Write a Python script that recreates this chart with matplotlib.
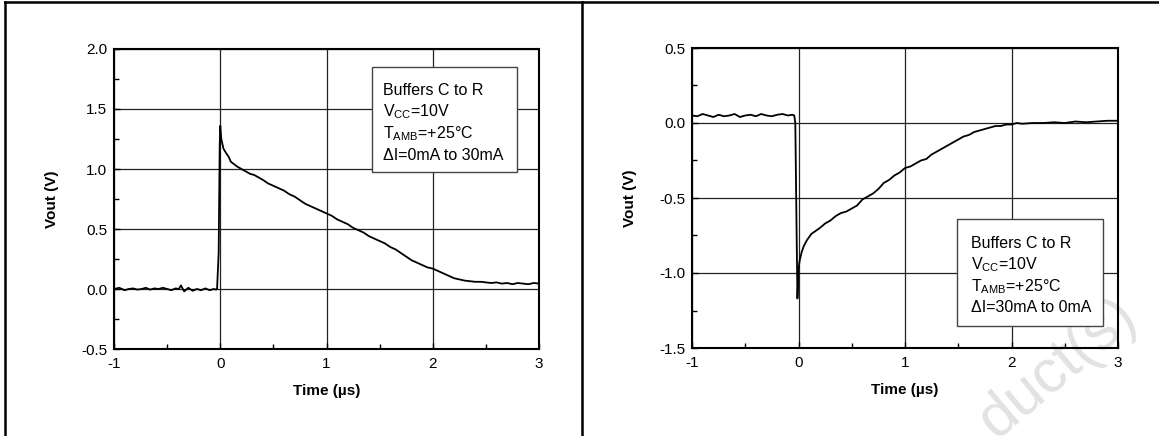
import matplotlib
matplotlib.use("Agg")
import matplotlib.pyplot as plt
from matplotlib.ticker import MultipleLocator
from matplotlib.lines import Line2D
from matplotlib.patches import Rectangle

plt.rcParams['font.family'] = ['Liberation Sans', 'DejaVu Sans']
plt.rcParams['mathtext.fontset'] = 'custom'
plt.rcParams['mathtext.rm'] = 'Liberation Sans'

# left panel: 0mA -> 30mA step
t_rise = [-1.0, -0.95, -0.9, -0.86, -0.82, -0.78, -0.74, -0.7, -0.66, -0.62,
          -0.58, -0.54, -0.5, -0.46, -0.42, -0.39, -0.37, -0.34, -0.3, -0.26,
          -0.22, -0.18, -0.14, -0.1, -0.06, -0.04, -0.03, -0.015, -0.005, 0.0,
          0.01, 0.03, 0.05, 0.08, 0.1, 0.13, 0.16, 0.2, 0.24, 0.28, 0.32,
          0.36, 0.4, 0.45, 0.5, 0.55, 0.6, 0.65, 0.7, 0.75, 0.8, 0.85, 0.9,
          0.95, 1.0, 1.05, 1.1, 1.15, 1.2, 1.25, 1.3, 1.35, 1.4, 1.45, 1.5,
          1.55, 1.6, 1.65, 1.7, 1.75, 1.8, 1.85, 1.9, 1.95, 2.0, 2.05, 2.1,
          2.15, 2.2, 2.25, 2.3, 2.35, 2.4, 2.45, 2.5, 2.55, 2.6, 2.65, 2.7,
          2.75, 2.8, 2.85, 2.9, 2.95, 3.0]
v_rise = [0.0, 0.01, -0.01, 0.0, 0.005, -0.005, 0.0, 0.01, -0.005, 0.005,
          0.0, 0.01, 0.0, -0.01, 0.005, 0.0, 0.03, -0.02, 0.01, -0.015,
          0.0, -0.01, 0.005, -0.01, 0.0, -0.005, 0.0, 0.3, 1.2, 1.36,
          1.25, 1.17, 1.14, 1.10, 1.06, 1.04, 1.02, 1.00, 0.98, 0.96, 0.95,
          0.93, 0.91, 0.88, 0.86, 0.84, 0.82, 0.79, 0.77, 0.74, 0.71, 0.69, 0.67,
          0.65, 0.63, 0.61, 0.58, 0.56, 0.54, 0.51, 0.49, 0.47, 0.44, 0.42, 0.40,
          0.38, 0.35, 0.33, 0.30, 0.27, 0.24, 0.22, 0.20, 0.18, 0.17, 0.15, 0.13,
          0.11, 0.09, 0.08, 0.07, 0.065, 0.06, 0.06, 0.055, 0.05, 0.055, 0.045, 0.05,
          0.04, 0.05, 0.045, 0.04, 0.05, 0.045]

# right panel: 30mA -> 0mA step
t_fall = [-1.0, -0.95, -0.9, -0.85, -0.8, -0.75, -0.7, -0.65, -0.6, -0.55,
          -0.5, -0.45, -0.4, -0.35, -0.3, -0.25, -0.2, -0.15, -0.1, -0.06,
          -0.04, -0.03, -0.02, -0.01, 0.0, 0.01, 0.03, 0.05, 0.08, 0.12, 0.16,
          0.2, 0.25, 0.3, 0.35, 0.4, 0.45, 0.5, 0.55, 0.6, 0.65, 0.7, 0.75,
          0.8, 0.85, 0.9, 0.95, 1.0, 1.05, 1.1, 1.15, 1.2, 1.25, 1.3, 1.35,
          1.4, 1.45, 1.5, 1.55, 1.6, 1.65, 1.7, 1.75, 1.8, 1.85, 1.9, 1.95,
          2.0, 2.05, 2.1, 2.2, 2.3, 2.4, 2.5, 2.6, 2.7, 2.8, 2.9, 3.0]
v_fall = [0.05, 0.045, 0.06, 0.05, 0.04, 0.055, 0.045, 0.05, 0.06, 0.04,
          0.05, 0.055, 0.045, 0.06, 0.05, 0.045, 0.055, 0.06, 0.05, 0.055,
          0.05, 0.0, -0.6, -1.17, -0.98, -0.92, -0.86, -0.82, -0.78, -0.74, -0.72,
          -0.70, -0.67, -0.65, -0.62, -0.60, -0.59, -0.57, -0.55, -0.51, -0.49, -0.47, -0.44,
          -0.40, -0.38, -0.35, -0.33, -0.30, -0.29, -0.27, -0.25, -0.24, -0.21, -0.19, -0.17,
          -0.15, -0.13, -0.11, -0.09, -0.08, -0.06, -0.05, -0.04, -0.03, -0.02, -0.02, -0.01,
          -0.01, 0.0, -0.005, 0.0, 0.0, 0.005, 0.0, 0.01, 0.005, 0.01, 0.015, 0.015]

lines_rise = ["Buffers C to R", "V$_\\mathregular{CC}$=10V",
              "T$_\\mathregular{AMB}$=+25°C", "\u0394I=0mA to 30mA"]
lines_fall = ["Buffers C to R", "V$_\\mathregular{CC}$=10V",
              "T$_\\mathregular{AMB}$=+25°C", "\u0394I=30mA to 0mA"]

W, H = 1159, 436
fig = plt.figure(figsize=(W / 100, H / 100), dpi=100)


def px(x, y):
    return x / W, 1 - y / H


def style_axes(ax, ylim, yticks):
    ax.set_facecolor("none")
    ax.set_xlim(-1, 3)
    ax.set_ylim(*ylim)
    ax.set_xticks([-1, 0, 1, 2, 3])
    ax.set_xticklabels(["-1", "0", "1", "2", "3"])
    ax.set_yticks(yticks)
    ax.set_yticklabels(["%.1f" % v for v in yticks])
    ax.xaxis.set_minor_locator(MultipleLocator(0.5))
    ax.yaxis.set_minor_locator(MultipleLocator(0.25))
    ax.tick_params(which="both", direction="in", top=False, right=False,
                   labelsize=11)
    ax.tick_params(axis="x", pad=6)
    ax.tick_params(axis="y", pad=5)
    ax.tick_params(which="major", length=4, width=1)
    ax.tick_params(which="minor", length=3.5, width=1)
    ax.grid(True, which="major", color="#222222", linewidth=0.9)
    for s in ax.spines.values():
        s.set_linewidth(1.5)
    ax.set_xlabel("Time (\u00b5s)", fontsize=11, fontweight="bold", labelpad=9)
    ax.set_ylabel("Vout (V)", fontsize=11, fontweight="bold", labelpad=16)


def info_box(box, text_x, baselines, lines):
    x0, y0, x1, y1 = box
    fig.add_artist(Rectangle(px(x0, y1), (x1 - x0) / W, (y1 - y0) / H,
                             transform=fig.transFigure, facecolor="white",
                             edgecolor="#444444", linewidth=1.0, zorder=5))
    for yb, s in zip(baselines, lines):
        fig.text(text_x / W, 1 - yb / H, s, fontsize=11.5, ha="left",
                 va="baseline", zorder=6)


# watermark fragment (drawn first, behind the transparent axes)
fig.text(1058 / W, 1 - 368 / H, "duct(s)", fontsize=44, color="#e2e2e2",
         rotation=40, ha="center", va="center", zorder=-5)

ax1 = fig.add_axes([114 / W, 1 - 349 / H, 425 / W, 300 / H])
ax1.plot(t_rise, v_rise, color="black", linewidth=1.3)
style_axes(ax1, (-0.5, 2.0), [-0.5, 0.0, 0.5, 1.0, 1.5, 2.0])

ax2 = fig.add_axes([692 / W, 1 - 348 / H, 426 / W, 300 / H])
ax2.plot(t_fall, v_fall, color="black", linewidth=1.3)
style_axes(ax2, (-1.5, 0.5), [-1.5, -1.0, -0.5, 0.0, 0.5])

info_box((372, 67, 517, 172), 383, [95, 116.5, 138, 160], lines_rise)
info_box((957, 219, 1103, 326), 971, [248, 269.5, 291, 312], lines_fall)

# page frame
fig.add_artist(Line2D([5 / W, 1], [1 - 2 / H, 1 - 2 / H], transform=fig.transFigure,
                      color="black", linewidth=1.8))
fig.add_artist(Line2D([5 / W, 5 / W], [0, 1 - 2 / H], transform=fig.transFigure,
                      color="black", linewidth=1.8))
fig.add_artist(Line2D([582 / W, 582 / W], [0, 1 - 2 / H], transform=fig.transFigure,
                      color="black", linewidth=1.8))

fig.savefig("out.png", dpi=100)
plt.close()
